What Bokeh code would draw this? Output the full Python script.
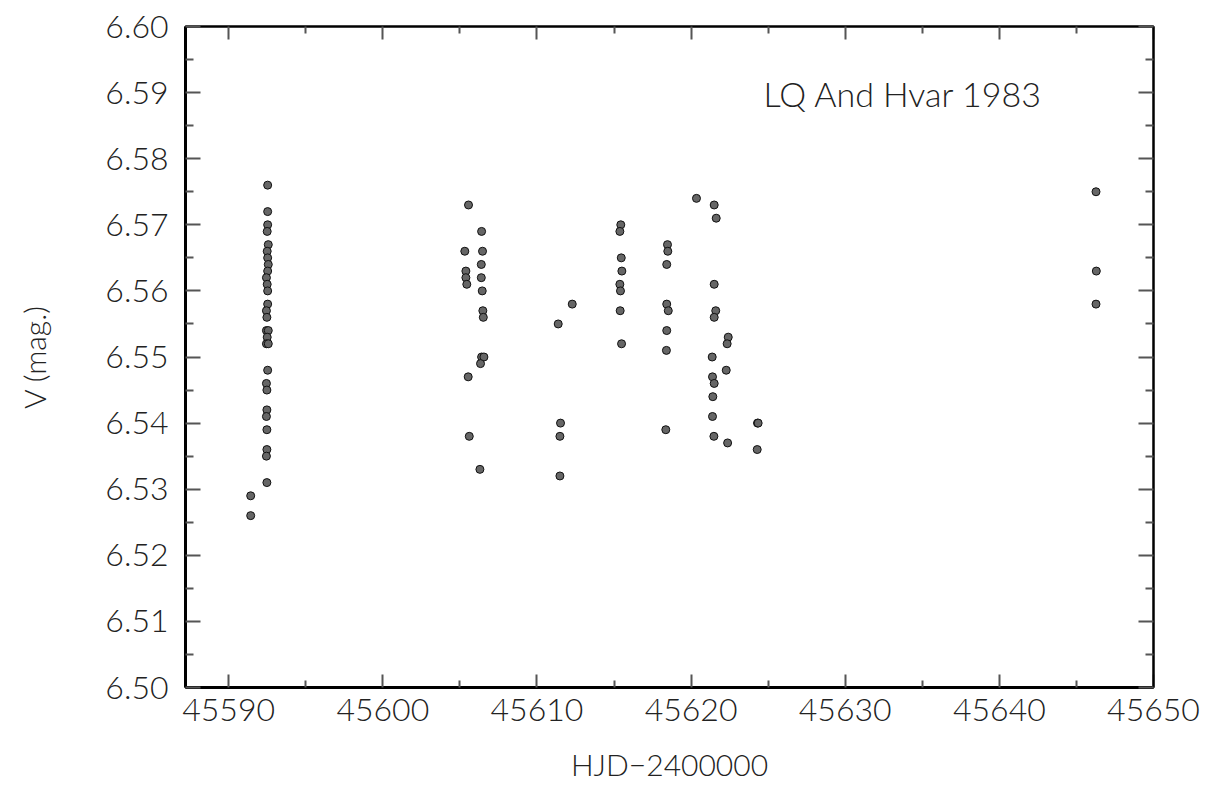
from bokeh.plotting import figure
from bokeh.models import Range1d, FixedTicker, LinearAxis, Label, NumeralTickFormatter
from bokeh.embed import file_html
from bokeh.resources import INLINE

hjd = [
    45592.53, 45592.53, 45592.53, 45592.50, 45592.57, 45592.50, 45592.53, 45592.57,
    45592.53, 45592.45, 45592.50, 45592.53, 45592.53, 45592.45, 45592.48, 45592.45,
    45592.57, 45592.50, 45592.45, 45592.57, 45592.53, 45592.45, 45592.48, 45592.48,
    45592.45, 45592.48, 45592.48, 45592.45, 45592.48, 45591.43, 45591.43,
    45605.56, 45606.41, 45605.32, 45606.47, 45606.39, 45605.39, 45605.39, 45606.39,
    45605.45, 45606.45, 45612.29, 45606.49, 45606.52, 45611.38, 45606.41, 45606.56,
    45606.34, 45605.54, 45611.53, 45605.61, 45611.49, 45606.30, 45611.49,
    45620.35, 45621.50, 45621.63, 45615.44, 45615.38, 45618.47, 45618.49, 45615.47,
    45618.42, 45615.51, 45615.38, 45621.50, 45615.42, 45618.42, 45615.40, 45618.52,
    45621.60, 45621.50, 45618.42, 45622.41, 45622.34, 45615.49, 45618.40, 45621.37,
    45622.28, 45621.39, 45621.50, 45621.41, 45621.39, 45624.31, 45624.35, 45618.36,
    45621.48, 45622.37, 45624.29,
    45646.27, 45646.29, 45646.27,
]
vmag = [
    6.576, 6.572, 6.570, 6.569, 6.567, 6.566, 6.565, 6.564,
    6.563, 6.562, 6.561, 6.560, 6.558, 6.557, 6.556, 6.554,
    6.554, 6.553, 6.552, 6.552, 6.548, 6.546, 6.545, 6.542,
    6.541, 6.539, 6.536, 6.535, 6.531, 6.529, 6.526,
    6.573, 6.569, 6.566, 6.566, 6.564, 6.563, 6.562, 6.562,
    6.561, 6.560, 6.558, 6.557, 6.556, 6.555, 6.550, 6.550,
    6.549, 6.547, 6.540, 6.538, 6.538, 6.533, 6.532,
    6.574, 6.573, 6.571, 6.570, 6.569, 6.567, 6.566, 6.565,
    6.564, 6.563, 6.561, 6.561, 6.560, 6.558, 6.557, 6.557,
    6.557, 6.556, 6.554, 6.553, 6.552, 6.552, 6.551, 6.550,
    6.548, 6.547, 6.546, 6.544, 6.541, 6.540, 6.540, 6.539,
    6.538, 6.537, 6.536,
    6.575, 6.563, 6.558,
]

x_major = [45590, 45600, 45610, 45620, 45630, 45640, 45650]
x_minor = [45595, 45605, 45615, 45625, 45635, 45645]
y_major = [6.50, 6.51, 6.52, 6.53, 6.54, 6.55, 6.56, 6.57, 6.58, 6.59, 6.60]
y_minor = [6.505, 6.515, 6.525, 6.535, 6.545, 6.555, 6.565, 6.575, 6.585, 6.595]

title_text = "LQ And  Hvar 1983"
x_label = "HJD\u22122400000"
y_label = "V (mag.)"

FONT = "Lato Light"
TXT = "#222222"

p = figure(width=1212, height=787, output_backend="svg", toolbar_location=None,
           x_range=Range1d(45587.2, 45650), y_range=Range1d(6.50, 6.60),
           min_border_left=185, min_border_right=59, min_border_top=26, min_border_bottom=100,
           x_axis_label=x_label, y_axis_label=y_label)
p.xgrid.visible = False
p.ygrid.visible = False
p.outline_line_color = "black"
p.outline_line_width = 2
p.background_fill_color = "white"
p.border_fill_color = "white"

xt = FixedTicker(ticks=x_major, minor_ticks=x_minor)
yt = FixedTicker(ticks=y_major, minor_ticks=y_minor)

def style(ax, ticker, tin, tmin, labels=True):
    ax.ticker = ticker
    ax.major_tick_in = tin
    ax.major_tick_out = 0
    ax.minor_tick_in = tmin
    ax.minor_tick_out = 0
    ax.major_tick_line_color = "#555555"
    ax.minor_tick_line_color = "#555555"
    ax.major_tick_line_width = 2
    ax.minor_tick_line_width = 2
    ax.axis_line_color = "black"
    ax.axis_line_width = 3
    if labels:
        ax.major_label_text_font = FONT
        ax.major_label_text_font_size = "32px"
        ax.major_label_text_color = TXT
        ax.axis_label_text_font = FONT
        ax.axis_label_text_font_size = "30px"
        ax.axis_label_text_font_style = "normal"
        ax.axis_label_text_color = TXT
    else:
        ax.major_label_text_font_size = "0px"
        ax.major_label_standoff = 0
        ax.axis_line_width = 2

xa = p.xaxis[0]
style(xa, xt, 13, 7)
xa.major_label_standoff = 11
xa.axis_label_standoff = 22
ya = p.yaxis[0]
style(ya, yt, 15, 8)
ya.formatter = NumeralTickFormatter(format="0.00")
ya.major_label_standoff = 17
ya.axis_label_standoff = 50

ra = LinearAxis()
style(ra, FixedTicker(ticks=y_major, minor_ticks=y_minor), 15, 8, labels=False)
p.add_layout(ra, "right")
ta = LinearAxis()
style(ta, FixedTicker(ticks=x_major, minor_ticks=x_minor), 13, 7, labels=False)
p.add_layout(ta, "above")

p.scatter(hjd, vmag, size=8, fill_color="#666666", line_color="#111111", line_width=1)

p.add_layout(Label(x=45624.7, y=6.5899, text=title_text, text_font=FONT,
                   text_font_size="34px", text_color=TXT, text_baseline="alphabetic"))

open("out.html", "w").write(file_html(p, INLINE))
